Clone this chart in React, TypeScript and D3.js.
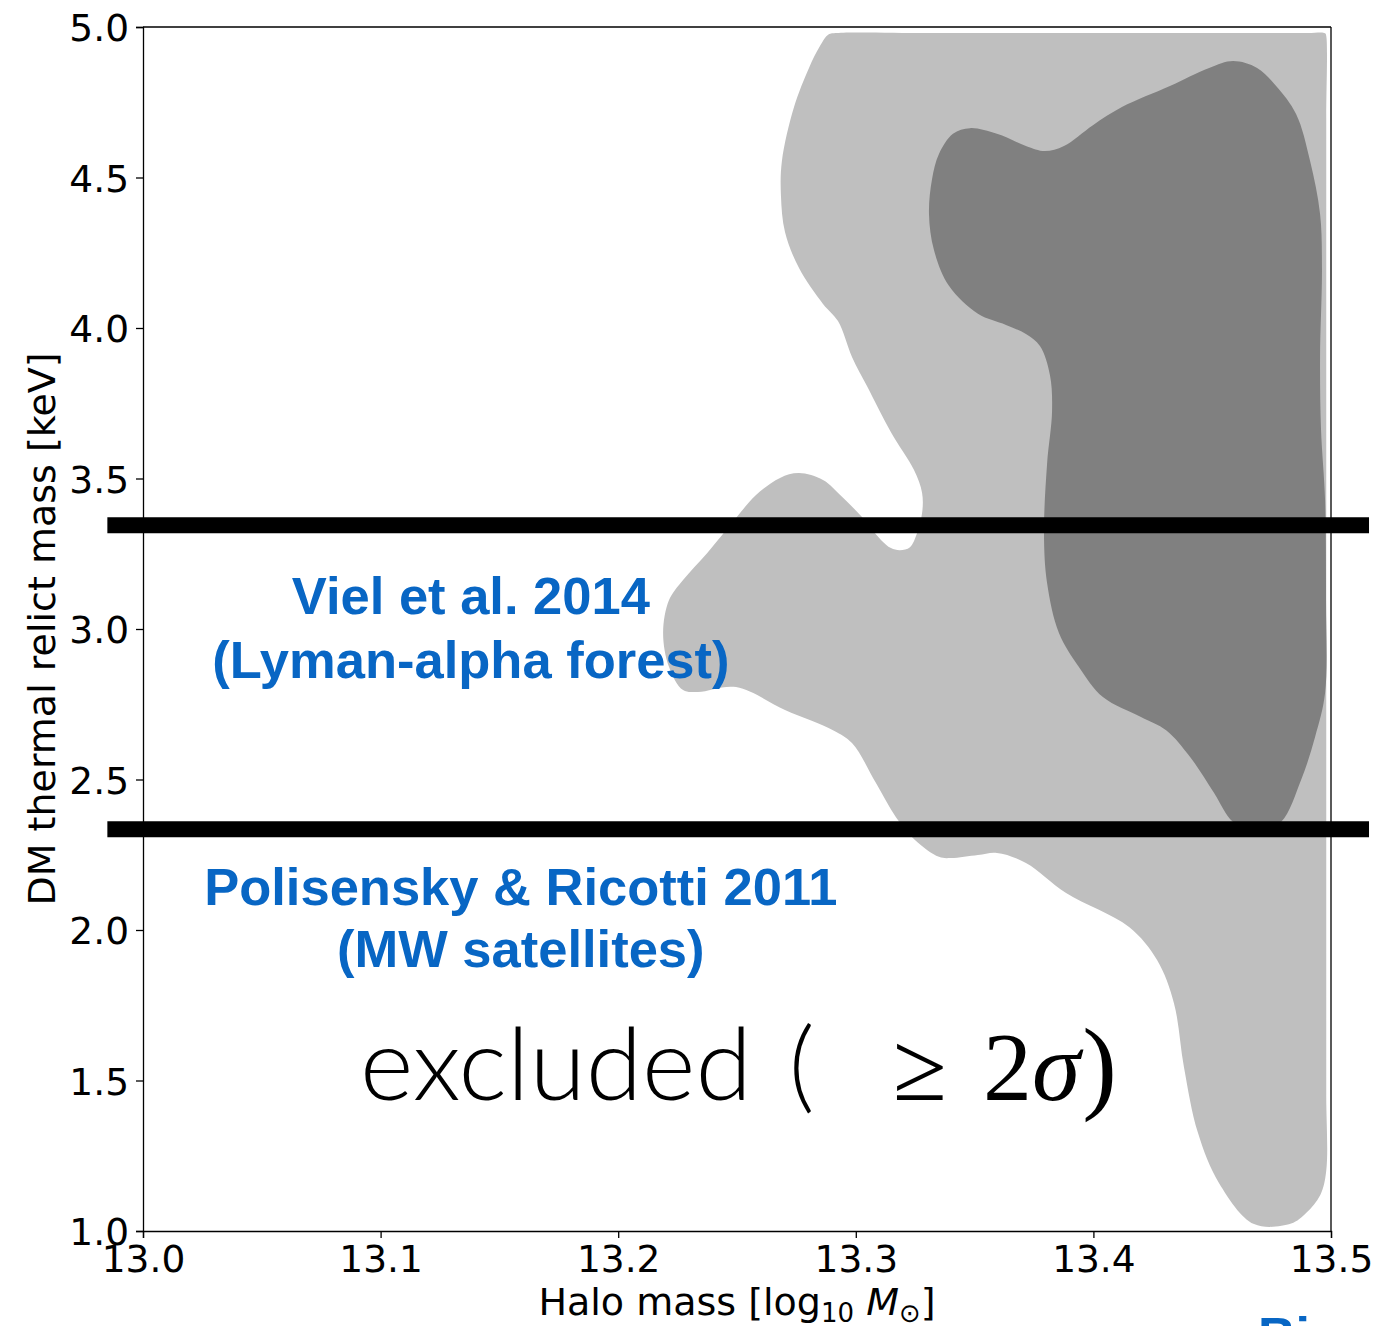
import React, { useEffect, useRef } from 'react';
import * as d3 from 'd3';

// axis ranges and ticks
const xDomain: [number, number] = [13.0, 13.5];
const yDomain: [number, number] = [1.0, 5.0];
const xTicks = [13.0, 13.1, 13.2, 13.3, 13.4, 13.5];
const yTicks = [1.0, 1.5, 2.0, 2.5, 3.0, 3.5, 4.0, 4.5, 5.0];

// 2 sigma region outline (log10 halo mass, keV)
const outer2sigma: [number, number][] = [
  [13.2885, 4.975], [13.292, 4.98], [13.33, 4.98], [13.37, 4.98], [13.41, 4.98], [13.45, 4.98],
  [13.49, 4.98], [13.4975, 4.979], [13.498, 4.97], [13.498, 4.7], [13.498, 4.4], [13.498, 4.1],
  [13.498, 3.8], [13.498, 3.5], [13.498, 3.2], [13.498, 2.9], [13.498, 2.6], [13.498, 2.3],
  [13.498, 2.0], [13.498, 1.7], [13.498, 1.45], [13.498, 1.2], [13.4955, 1.12],
  [13.4895, 1.06], [13.4832, 1.025], [13.4676, 1.023], [13.4529, 1.159],
  [13.444, 1.326], [13.4381, 1.545], [13.4339, 1.757], [13.4268, 1.9], [13.415, 2.01],
  [13.3885, 2.123], [13.3716, 2.223], [13.3594, 2.256], [13.3514, 2.249], [13.3401, 2.239],
  [13.335, 2.243], [13.3249, 2.299], [13.3169, 2.375], [13.3085, 2.488], [13.2984, 2.621],
  [13.2904, 2.664], [13.2702, 2.731], [13.2496, 2.807], [13.2336, 2.791], [13.2273, 2.797],
  [13.2214, 2.874], [13.2189, 2.987], [13.2214, 3.096], [13.2273, 3.163], [13.2374, 3.252],
  [13.2496, 3.369], [13.258, 3.445], [13.2681, 3.502], [13.2761, 3.518], [13.2862, 3.495],
  [13.2942, 3.439], [13.3026, 3.372], [13.3106, 3.296], [13.3148, 3.269], [13.3186, 3.262],
  [13.3228, 3.272], [13.3258, 3.319], [13.3279, 3.385], [13.3279, 3.452], [13.3245, 3.528],
  [13.3148, 3.654], [13.3047, 3.807], [13.2984, 3.904], [13.2925, 4.023], [13.2862, 4.08],
  [13.2761, 4.199], [13.2702, 4.319], [13.2685, 4.439], [13.2689, 4.555], [13.274, 4.734],
  [13.2803, 4.864], [13.2848, 4.935],
];

// 1 sigma region outline
const inner1sigma: [number, number][] = [
  [13.4588, 4.887], [13.4689, 4.864], [13.4769, 4.804], [13.4853, 4.711], [13.4912, 4.555],
  [13.4954, 4.379], [13.4962, 4.199], [13.4954, 3.904], [13.4958, 3.664], [13.4975, 3.429],
  [13.4979, 3.096], [13.4975, 2.787], [13.4933, 2.641], [13.4874, 2.498], [13.479, 2.359],
  [13.4693, 2.326], [13.4588, 2.359], [13.4508, 2.455], [13.4407, 2.575], [13.4306, 2.664],
  [13.42, 2.708], [13.404, 2.774], [13.3939, 2.874], [13.3855, 2.987], [13.3805, 3.153],
  [13.3792, 3.319], [13.3805, 3.548], [13.3826, 3.724], [13.3817, 3.844], [13.3775, 3.94],
  [13.3716, 3.98], [13.3632, 4.01], [13.3514, 4.047], [13.3392, 4.14], [13.3329, 4.259],
  [13.3308, 4.379], [13.3321, 4.495], [13.335, 4.578], [13.3409, 4.645], [13.3481, 4.664],
  [13.3594, 4.645], [13.3716, 4.605], [13.3796, 4.588], [13.3876, 4.605], [13.3998, 4.674],
  [13.412, 4.734], [13.4322, 4.804], [13.4487, 4.864],
];

// lower limits from other probes (keV)
const limitValues = [3.345, 2.335];
const limitSpan: [number, number] = [12.985, 13.516];

const limitLabels = [
  { lines: ['Viel et al. 2014', '(Lyman-alpha forest)'], x: 13.138, y: [3.05, 2.837] },
  { lines: ['Polisensky & Ricotti 2011', '(MW satellites)'], x: 13.159, y: [2.083, 1.877] },
];

const BLUE = '#0866c4';

export default function App() {
  const svgRef = useRef<SVGSVGElement>(null);

  useEffect(() => {
    const width = 1396;
    const height = 1326;
    const margin = { top: 27, right: 65, bottom: 95, left: 143 };
    const svg = d3.select(svgRef.current);
    svg.selectAll('*').remove();
    svg.attr('width', width).attr('height', height);

    const x = d3.scaleLinear().domain(xDomain).range([margin.left, width - margin.right]);
    const y = d3.scaleLinear().domain(yDomain).range([height - margin.bottom, margin.top]);

    const area = d3
      .line<[number, number]>()
      .x((d) => x(d[0]))
      .y((d) => y(d[1]))
      .curve(d3.curveCatmullRomClosed.alpha(0.5));

    svg.append('path').attr('d', area(outer2sigma)).attr('fill', '#bfbfbf');
    svg.append('path').attr('d', area(inner1sigma)).attr('fill', '#808080');

    // axes box
    const font = 'DejaVu Sans, sans-serif';
    const xAxis = svg
      .append('g')
      .attr('transform', `translate(0,${y(yDomain[0])})`)
      .call(d3.axisBottom(x).tickValues(xTicks).tickFormat(d3.format('.1f')).tickSize(7).tickPadding(5));
    const yAxis = svg
      .append('g')
      .attr('transform', `translate(${x(xDomain[0])},0)`)
      .call(d3.axisLeft(y).tickValues(yTicks).tickFormat(d3.format('.1f')).tickSize(7).tickPadding(7));
    [xAxis, yAxis].forEach((g) => {
      g.selectAll('path,line').attr('stroke', '#000').attr('stroke-width', 1.3);
      g.selectAll('text').attr('font-family', font).attr('font-size', 37.5).attr('fill', '#000');
    });
    yAxis.selectAll('text').attr('dy', '0.36em');
    xAxis.selectAll('text').attr('dy', '0.76em');
    svg.append('line')
      .attr('x1', x(xDomain[0])).attr('x2', x(xDomain[1]))
      .attr('y1', y(yDomain[1])).attr('y2', y(yDomain[1]))
      .attr('stroke', '#000').attr('stroke-width', 1.3);
    svg.append('line')
      .attr('x1', x(xDomain[1])).attr('x2', x(xDomain[1]))
      .attr('y1', y(yDomain[0])).attr('y2', y(yDomain[1]))
      .attr('stroke', '#000').attr('stroke-width', 1.3);

    // axis titles
    const xl = svg.append('text')
      .attr('x', (x(xDomain[0]) + x(xDomain[1])) / 2)
      .attr('y', 1315)
      .attr('text-anchor', 'middle')
      .attr('font-family', font)
      .attr('font-size', 38);
    xl.append('tspan').text('Halo mass [log');
    xl.append('tspan').attr('font-size', 26).attr('dy', 7).text('10');
    xl.append('tspan').attr('dy', -7).text(' ');
    xl.append('tspan').attr('font-style', 'italic').text('M');
    xl.append('tspan').attr('font-size', 26).attr('dy', 7).text('\u2299');
    xl.append('tspan').attr('dy', -7).text(']');

    svg.append('text')
      .attr('transform', `translate(55,${(y(yDomain[0]) + y(yDomain[1])) / 2}) rotate(-90)`)
      .attr('text-anchor', 'middle')
      .attr('font-family', font)
      .attr('font-size', 38)
      .text('DM thermal relict mass [keV]');

    // limit lines
    limitValues.forEach((v) => {
      svg.append('line')
        .attr('x1', x(limitSpan[0])).attr('x2', x(limitSpan[1]))
        .attr('y1', y(v)).attr('y2', y(v))
        .attr('stroke', '#000').attr('stroke-width', 16);
    });

    limitLabels.forEach((lab) => {
      lab.lines.forEach((t, i) => {
        svg.append('text')
          .attr('x', x(lab.x)).attr('y', y(lab.y[i]))
          .attr('text-anchor', 'middle')
          .attr('font-family', 'Liberation Sans, Arial, sans-serif')
          .attr('font-weight', 'bold')
          .attr('font-size', 52.5)
          .attr('fill', BLUE)
          .text(t);
      });
    });

    // excluded annotation
    const ey = y(1.435);
    svg.append('text')
      .attr('x', x(13.0913)).attr('y', ey)
      .attr('font-family', 'Lato, Liberation Sans, Arial, sans-serif')
      .attr('font-weight', 300)
      .attr('font-size', 100)
      .attr('textLength', 392)
      .attr('lengthAdjust', 'spacingAndGlyphs')
      .text('excluded');
    svg.append('text')
      .attr('x', x(13.2718)).attr('y', ey)
      .attr('font-family', 'Lato, Liberation Sans, Arial, sans-serif')
      .attr('font-weight', 300)
      .attr('font-size', 100)
      .text('(');
    const m = svg.append('text')
      .attr('x', x(13.3157)).attr('y', ey)
      .attr('font-family', 'Liberation Serif, DejaVu Serif, serif')
      .attr('font-size', 98);
    m.append('tspan').text('\u2265');
    m.append('tspan').attr('dx', 36).text('2');
    m.append('tspan').attr('font-style', 'italic').text('\u03c3');
    m.append('tspan').attr('font-size', 104).attr('dx', 2).text(')');

    // partly visible label cut by the bottom edge
    svg.append('text')
      .attr('x', 1258).attr('y', 1354)
      .attr('font-family', 'Liberation Sans, Arial, sans-serif')
      .attr('font-weight', 'bold')
      .attr('font-size', 52)
      .attr('fill', BLUE)
      .text('Bi');
  }, []);

  return (
    <div style={{ position: 'absolute', left: 0, top: 0 }}>
      <svg ref={svgRef} style={{ display: 'block', background: '#fff' }} />
    </div>
  );
}
